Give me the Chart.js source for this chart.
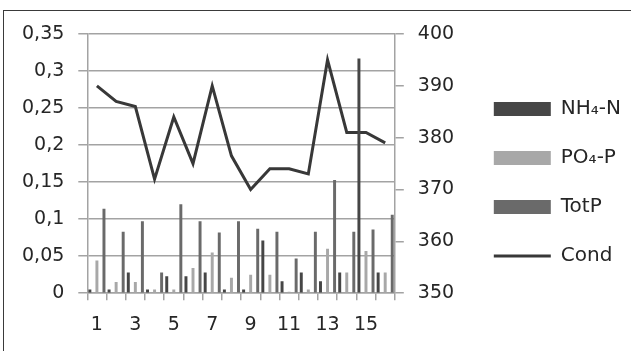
<!DOCTYPE html>
<html>
<head>
<meta charset="utf-8">
<script src="https://cdn.jsdelivr.net/npm/chart.js@4/dist/chart.umd.min.js"></script>
<style>
  html, body { margin: 0; padding: 0; background: #fff; }
  #wrap { position: relative; width: 631px; height: 351px; overflow: hidden; }
  #frame { position: absolute; left: 3px; top: 10px; width: 700px; height: 400px; border: 1px solid #3a3a3a; }
  canvas { position: absolute; left: 0; top: 0; }
</style>
</head>
<body>
<div id="wrap">
  <div id="frame"></div>
  <canvas id="chart" width="631" height="351"></canvas>
</div>
<script>
// Categories 1..16
const categories = ["1","2","3","4","5","6","7","8","9","10","11","12","13","14","15","16"];

// Bar series (left axis)
const nh4  = [0.005, 0.005, 0.028, 0.005, 0.023, 0.023, 0.028, 0.005, 0.005, 0.071, 0.016, 0.028, 0.016, 0.028, 0.317, 0.028];
const po4  = [0.044, 0.015, 0.015, 0.005, 0.005, 0.034, 0.055, 0.021, 0.025, 0.025, 0.002, 0.005, 0.060, 0.028, 0.057, 0.028];
const totp = [0.114, 0.083, 0.097, 0.028, 0.120, 0.097, 0.082, 0.097, 0.087, 0.083, 0.047, 0.083, 0.153, 0.083, 0.086, 0.106];

// Line series (right axis)
const cond = [390, 387, 386, 372, 384, 375, 390, 376.5, 370, 374, 374, 373, 395, 381, 381, 379];

const seriesNames = ["NH\u2084-N", "PO\u2084-P", "TotP", "Cond"];

const FONT = "'DejaVu Sans', sans-serif";
const TXT = "#262626";
const GRID = "#a3a3a3";
const lineColor = "#383838";

const barOpts = { categoryPercentage: 1.1, barPercentage: 0.42, yAxisID: "y", borderWidth: 0 };

new Chart(document.getElementById("chart"), {
  type: "bar",
  data: {
    labels: categories,
    datasets: [
      { label: seriesNames[0], data: nh4,  backgroundColor: "#464646", ...barOpts },
      { label: seriesNames[1], data: po4,  backgroundColor: "#a8a8a8", ...barOpts },
      { label: seriesNames[2], data: totp, backgroundColor: "#6a6a6a", ...barOpts },
      { label: seriesNames[3], data: cond, type: "line", yAxisID: "y1",
        borderColor: lineColor, backgroundColor: lineColor, borderWidth: 3,
        pointRadius: 0, tension: 0, fill: false }
    ]
  },
  options: {
    responsive: false,
    animation: false,
    layout: { padding: { left: 8, top: 34, right: 0, bottom: 2 } },
    plugins: {
      tooltip: { enabled: false },
      legend: {
        position: "right",
        align: "start",
        maxWidth: 220,
        // empty title only used as a spacer above the items
        title: { display: true, text: "", font: { size: 10 }, padding: { top: 0, bottom: 24 } },
        labels: {
          color: TXT,
          font: { family: FONT, size: 20 },
          usePointStyle: true,
          pointStyleWidth: 57,
          boxHeight: 14,
          padding: 29,
          generateLabels: chart =>
            Chart.defaults.plugins.legend.labels.generateLabels(chart).map((l, i) => ({
              ...l,
              pointStyle: i === 3 ? "line" : "rect",
              lineWidth: i === 3 ? 3 : 0,
              strokeStyle: i === 3 ? lineColor : l.fillStyle
            }))
        }
      }
    },
    scales: {
      x: {
        offset: true,
        grid: { drawOnChartArea: false, color: GRID, lineWidth: 1.5, tickLength: 7, offset: true },
        border: { color: GRID, width: 1.5 },
        ticks: {
          color: TXT, font: { family: FONT, size: 19 }, padding: 13,
          autoSkip: false, maxRotation: 0,
          callback: (v, i) => (i % 2 === 0 ? categories[i] : "")
        }
      },
      y: {
        position: "left",
        min: 0, max: 0.35,
        grid: { color: GRID, lineWidth: 1.5, tickLength: 9 },
        border: { color: GRID, width: 1.5 },
        ticks: {
          stepSize: 0.05, color: TXT, font: { family: FONT, size: 19 }, padding: 14,
          callback: v => String(Math.round(v * 100) / 100).replace(".", ",")
        }
      },
      y1: {
        position: "right",
        min: 350, max: 400,
        grid: { drawOnChartArea: false, color: GRID, lineWidth: 1.5, tickLength: 9 },
        border: { color: GRID, width: 1.5 },
        ticks: { stepSize: 10, color: TXT, font: { family: FONT, size: 19 }, padding: 14 },
        afterFit: s => { s.width = 70; }
      }
    }
  }
});
</script>
</body>
</html>
